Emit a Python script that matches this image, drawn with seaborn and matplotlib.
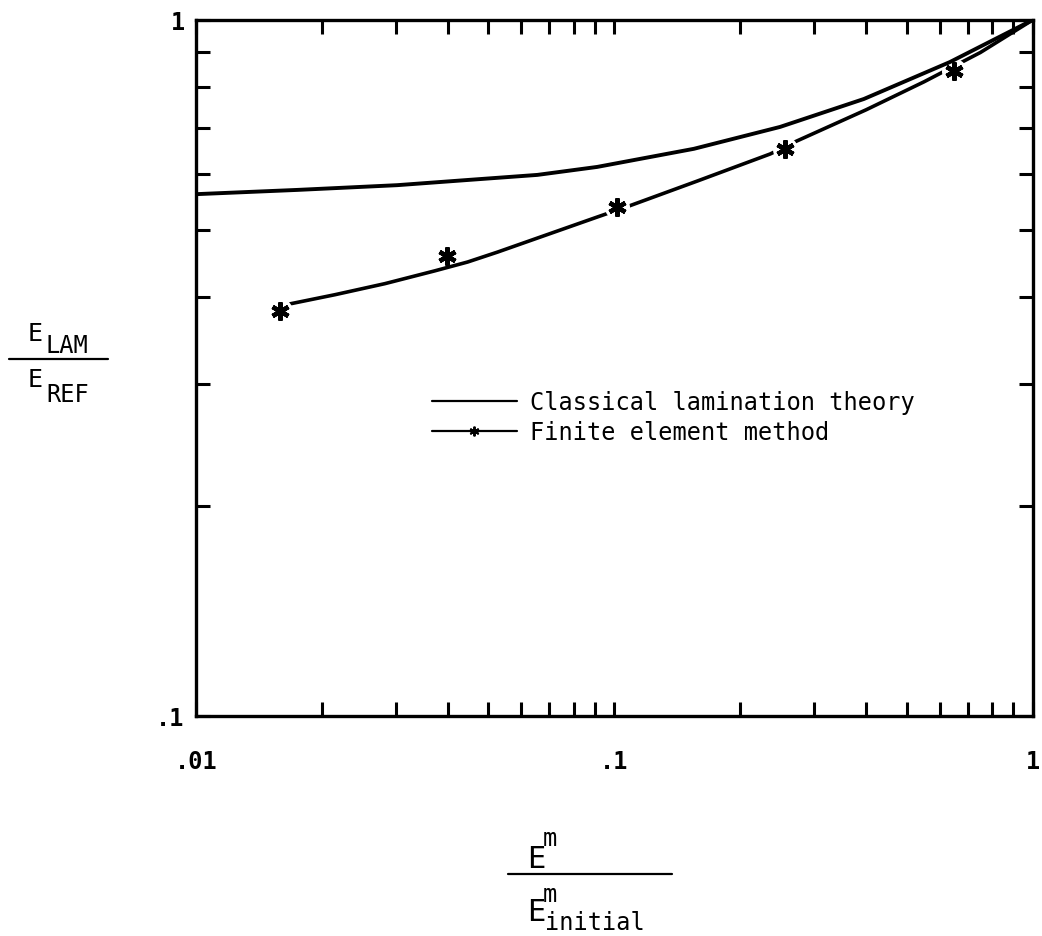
import numpy as np
import pandas as pd
import matplotlib
matplotlib.use("Agg")
import matplotlib.pyplot as plt
from matplotlib.lines import Line2D
from matplotlib.ticker import FixedLocator, FixedFormatter, NullFormatter
import seaborn as sns

# ── data ───────────────────────────────────────────────────
clt_x = [0.01, 0.0175, 0.0303, 0.0446, 0.0655, 0.091, 0.155, 0.249, 0.395, 0.634, 1.0]
clt_y = [0.562, 0.570, 0.579, 0.589, 0.599, 0.615, 0.653, 0.702, 0.770, 0.870, 1.0]

fem_line_x = [0.0168, 0.0215, 0.0283, 0.0372, 0.0446, 0.0526, 0.091, 0.109,
              0.158, 0.236, 0.273, 0.40, 0.55, 0.75, 1.0]
fem_line_y = [0.391, 0.403, 0.418, 0.436, 0.449, 0.464, 0.521, 0.541,
              0.587, 0.642, 0.670, 0.743, 0.815, 0.898, 1.0]

fem_x = [0.0159, 0.0399, 0.1016, 0.256, 0.648]
fem_y = [0.382, 0.458, 0.538, 0.653, 0.845]

x_ticks = [0.01, 0.1, 1]
x_tick_labels = ['.01', '.1', '1']
y_ticks = [0.1, 1]
y_tick_labels = ['.1', '1']
x_minor = [m * d for d in (0.01, 0.1) for m in range(2, 10)]
y_minor = [m * 0.1 for m in range(2, 10)]

legend_labels = ['Classical lamination theory', 'Finite element method']

# ── style ──────────────────────────────────────────────────
sns.set_style("ticks")
plt.rcParams['font.family'] = ['DejaVu Sans Mono', 'DejaVu Sans']
plt.rcParams['text.color'] = 'black'
plt.rcParams['xtick.color'] = 'black'
plt.rcParams['ytick.color'] = 'black'
MONO = 'DejaVu Sans Mono'

fig = plt.figure(figsize=(10.42, 9.37), dpi=100)
ax = fig.add_axes([0.188, 0.2348, 0.803, 0.7428])

clt = pd.DataFrame({'x': clt_x, 'y': clt_y})
fem_line = pd.DataFrame({'x': fem_line_x, 'y': fem_line_y})

sns.lineplot(data=fem_line, x='x', y='y', ax=ax, color='black', lw=2.6,
             sort=False, zorder=2, legend=False)
# white patches make the little breaks in the line around the stars
gap_idx = [0, 2, 3, 4]
ax.plot([fem_x[i] for i in gap_idx], [fem_y[i] for i in gap_idx],
        ls='none', marker='o', ms=18, mfc='white', mec='none', zorder=3)
sns.lineplot(data=clt, x='x', y='y', ax=ax, color='black', lw=2.8,
             sort=False, zorder=4, legend=False)
ax.plot(fem_x, fem_y, ls='none', marker=(6, 2, 0), ms=13, mew=3.2,
        color='black', zorder=5)

ax.set_xscale('log')
ax.set_yscale('log')
ax.set_xlim(0.01, 1)
ax.set_ylim(0.1, 1)

ax.xaxis.set_major_locator(FixedLocator(x_ticks))
ax.xaxis.set_major_formatter(FixedFormatter(x_tick_labels))
ax.xaxis.set_minor_locator(FixedLocator(x_minor))
ax.xaxis.set_minor_formatter(NullFormatter())
ax.yaxis.set_major_locator(FixedLocator(y_ticks))
ax.yaxis.set_major_formatter(FixedFormatter(y_tick_labels))
ax.yaxis.set_minor_locator(FixedLocator(y_minor))
ax.yaxis.set_minor_formatter(NullFormatter())

ax.tick_params(which='both', direction='in', top=True, right=True,
               length=10, width=2.2, color='black')
ax.tick_params(axis='x', which='major', pad=24, labelsize=17)
ax.tick_params(axis='y', which='major', pad=8, labelsize=17)
for lab in ax.get_xticklabels() + ax.get_yticklabels():
    lab.set_fontfamily(MONO)
    lab.set_fontweight('bold')
    lab.set_color('black')

for sp in ax.spines.values():
    sp.set_linewidth(2.4)
    sp.set_color('black')
ax.set_xlabel('')
ax.set_ylabel('')

# ── legend ─────────────────────────────────────────────────
handles = [Line2D([], [], color='black', lw=1.6),
           Line2D([], [], color='black', lw=1.6, marker=(6, 2, 0), ms=7, mew=1.4)]
leg = ax.legend(handles, legend_labels, loc='upper left',
                bbox_to_anchor=(0.282, 0.468), frameon=False, borderpad=0,
                borderaxespad=0, handlelength=3.6, handletextpad=0.55,
                labelspacing=0.25, numpoints=1,
                prop={'family': MONO, 'size': 17})
for t in leg.get_texts():
    t.set_color('black')

# ── axis labels drawn as stacked fractions ─────────────────
W, H = 1042.0, 937.0
def ftxt(px, py, s, size=17, **kw):
    fig.text(px / W, 1 - py / H, s, fontsize=size, family=MONO,
             va='baseline', ha='left', color='black', **kw)

def fline(x0, x1, py, lw=1.6):
    fig.add_artist(Line2D([x0 / W, x1 / W], [1 - py / H, 1 - py / H],
                          color='black', lw=lw, transform=fig.transFigure))

# y label: E_LAM / E_REF
ftxt(28, 341, 'E', 18)
ftxt(46, 353, 'LAM', 17)
fline(9, 108, 360)
ftxt(28, 387, 'E', 18)
ftxt(46, 402, 'REF', 17)

# x label: E^m / E^m_initial
ftxt(527, 868, 'E', 22)
ftxt(543, 846, 'm', 17)
fline(508, 672, 875)
ftxt(527, 921, 'E', 22)
ftxt(543, 902, 'm', 17)
ftxt(545, 930, 'initial', 17)

fig.savefig('out.png', dpi=100)
